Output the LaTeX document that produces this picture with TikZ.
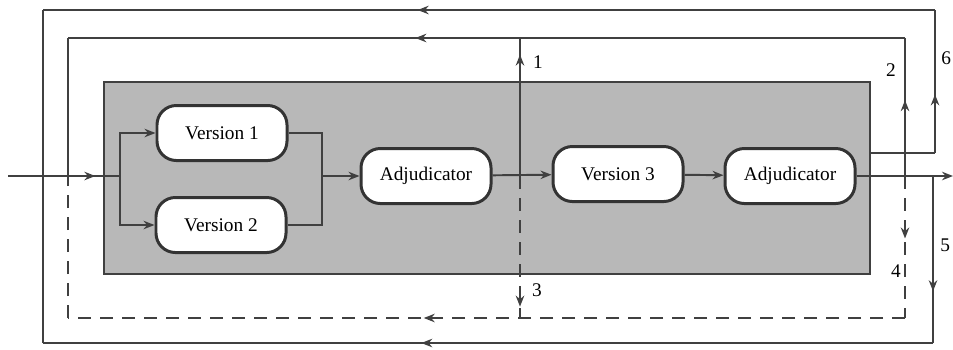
\documentclass[tikz,border=0pt]{standalone}
\usepackage{fontspec}
\setmainfont{Liberation Serif}
\usetikzlibrary{arrows.meta, decorations.markings}

\tikzset{
  proc/.style={draw=black!80, line width=1.7pt, fill=white, rounded corners=11pt,
    minimum width=26mm, minimum height=11mm, inner sep=0pt, font=\fontsize{11}{13}\selectfont},
  sysbox/.style={draw=black!75, line width=1.4pt, fill=black!28, inner sep=0pt},
  flow/.style={draw=black!75, line width=1.1pt},
  back/.style={flow, dash pattern=on 2.6mm off 1.8mm},
  midarr/.style={postaction={decorate}, decoration={markings,
    mark=at position #1 with {\arrow{Stealth[length=2.2mm,width=1.7mm]}}}},
  lab/.style={font=\fontsize{11}{13}\selectfont, inner sep=1pt}
}

\begin{document}
\begin{tikzpicture}[x=0.2mm, y=-0.2mm, >={Stealth[length=2.2mm,width=1.7mm]}]
  \useasboundingbox (0,0) rectangle (953,349);
  % caja sombreada y modulos
  \node[sysbox, minimum width=153.2mm, minimum height=38.4mm] (sys) at (487,178) {};
  \node[proc] (v1) at (222,133) {Version 1};
  \node[proc] (v2) at (221,225) {Version 2};
  \node[proc] (adj1) at (426,176) {Adjudicator};
  \node[proc] (v3) at (618,174) {Version 3};
  \node[proc] (adj2) at (790,176) {Adjudicator};
  % puntos de union
  \coordinate (in) at (8,176);    \coordinate (split) at (120,176);
  \coordinate (join) at (322,176); \coordinate (out) at (953,176);
  \coordinate (j1) at (520,176);  \coordinate (j2) at (905,176);
  \coordinate (j5) at (933,176);  \coordinate (t6) at (935,153);
  \coordinate (k6) at (43,176);   \coordinate (k2) at (68,176);
  \coordinate (c6a) at (935,10);  \coordinate (c6b) at (43,10);
  \coordinate (c2a) at (905,38);  \coordinate (c2b) at (68,38);
  \coordinate (c1) at (520,38);
  \coordinate (c5a) at (933,343); \coordinate (c5b) at (43,343);
  \coordinate (c4a) at (905,318); \coordinate (c4b) at (68,318);
  \coordinate (c3) at (520,318);
  % camino principal
  \draw[flow, midarr=0.78] (in) -- (split);
  \draw[flow, ->] (split) |- (v1);
  \draw[flow, ->] (split) |- (v2);
  \draw[flow] (v1) -| (join);
  \draw[flow] (v2) -| (join);
  \draw[flow, ->] (join) -- (adj1);
  \draw[flow, ->] (adj1) -- (v3);
  \draw[flow, ->] (v3) -- (adj2);
  \draw[flow, ->] (adj2) -- (out);
  % lazos hacia atras (continuos)
  \draw[flow, midarr=0.88] (j1) -- (c1);
  \draw[flow, midarr=0.55] (j2) -- (c2a);
  \draw[flow, midarr=0.585] (c2a) -- (c2b);
  \draw[flow] (c2b) -- (k2);
  \draw[flow] (sys.east |- t6) -- (t6);
  \draw[flow, midarr=0.41] (t6) -- (c6a);
  \draw[flow, midarr=0.58] (c6a) -- (c6b);
  \draw[flow] (c6b) -- (k6);
  \draw[flow, midarr=0.69] (j5) -- (c5a);
  \draw[flow, midarr=0.575] (c5a) -- (c5b);
  \draw[flow] (c5b) -- (k6);
  % lazos hacia atras (discontinuos)
  \draw[back, midarr=0.92] (j1) -- (c3);
  \draw[back, midarr=0.44] (j2) -- (c4a);
  \draw[back, midarr=0.575] (c4a) -- (c4b);
  \draw[back] (c4b) -- (k2);
  % etiquetas
  \foreach \p/\t in {{(538,62)}/1, {(891,70)}/2, {(537,290)}/3, {(896,271)}/4}{
    \node[lab] at \p {\t};}
  \node[lab, anchor=west, inner sep=0pt] (l5) at (940,245) {5};
  \node[lab, anchor=west, inner sep=0pt] (l6) at (941,58) {6};
\end{tikzpicture}
\end{document}
